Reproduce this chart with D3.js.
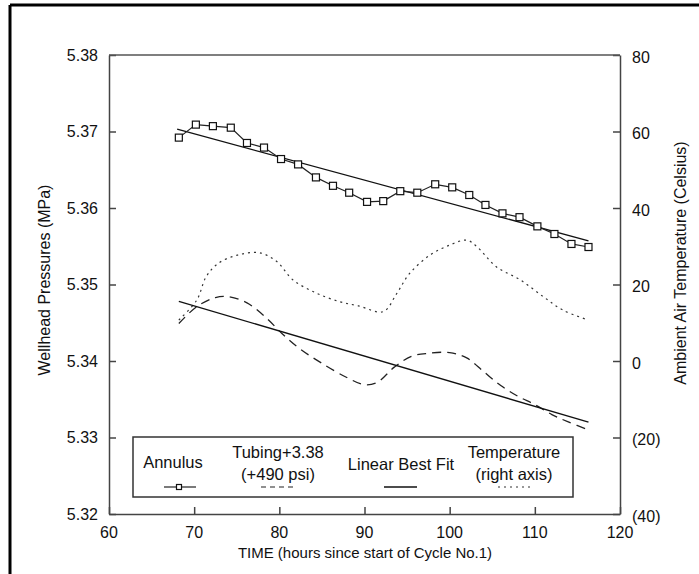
<!DOCTYPE html>
<html>
<head>
<meta charset="utf-8">
<script src="https://cdn.jsdelivr.net/npm/d3@7"></script>
<style>
  body { margin: 0; background: #fff; }
  text { font-family: "Liberation Sans", Arial, sans-serif; fill: #111; }
</style>
</head>
<body>
<script>
// values
var annulusTime = [68.2, 70.2, 72.2, 74.3, 76.2, 78.2, 80.2, 82.2, 84.3, 86.3, 88.2, 90.3, 92.2,
                   94.2, 96.2, 98.3, 100.3, 102.3, 104.2, 106.2, 108.2, 110.3, 112.3, 114.3, 116.3];
var annulusP = [5.3692, 5.3709, 5.3707, 5.3705, 5.3685, 5.3679, 5.3664, 5.3657, 5.3640, 5.3629, 5.3620, 5.3608, 5.3609,
                5.3622, 5.3620, 5.3631, 5.3627, 5.3617, 5.3604, 5.3593, 5.3588, 5.3576, 5.3566, 5.3553, 5.3549];

var tubingTime = [68.2, 70.3, 72.5, 74.0, 76.2, 78.5, 80.3, 82.4, 85.0, 88.0, 90.0, 91.5,
                  93.5, 95.5, 97.5, 100.0, 102.0, 104.0, 106.0, 108.0, 110.0, 112.0, 114.0, 116.3];
var tubingP = [5.3449, 5.3471, 5.3483, 5.3484, 5.3476, 5.3456, 5.3436, 5.3416, 5.3397, 5.3378, 5.3369, 5.3372,
               5.3392, 5.3406, 5.3410, 5.3411, 5.3404, 5.3386, 5.3368, 5.3354, 5.3343, 5.3330, 5.3320, 5.3310];

var tempTime = [68.2, 70.3, 71.4, 72.8, 75.1, 77.7, 79.7, 81.6, 84.4, 87.1, 89.3, 92.2,
                93.8, 95.3, 97.7, 100.0, 102.0, 103.2, 105.5, 108.3, 111.0, 113.3, 116.3];
var tempC = [10.7, 15.9, 22.0, 25.5, 27.7, 28.3, 26.0, 21.2, 17.7, 15.5, 14.4, 12.9,
             17.7, 22.9, 27.7, 30.3, 31.6, 29.9, 24.6, 21.2, 16.8, 13.3, 10.7];

// best fit end points
var annulusFitTime = [68.0, 116.3];
var annulusFitP = [5.3703, 5.3557];
var tubingFitTime = [68.2, 116.3];
var tubingFitP = [5.3478, 5.3320];

var xTicks = [60, 70, 80, 90, 100, 110, 120];
var leftTicks = [5.32, 5.33, 5.34, 5.35, 5.36, 5.37, 5.38];
var rightTicks = [-40, -20, 0, 20, 40, 60, 80];
var rightTickLabels = ["(40)", "(20)", "0", "20", "40", "60", "80"];

var W = 699, H = 574;
var plotL = 109, plotR = 620, plotT = 55, plotB = 514;

var svg = d3.select("body").append("svg")
    .attr("width", W)
    .attr("height", H);

// frame of the scanned figure
svg.append("line").attr("x1", 10).attr("y1", 5).attr("x2", W).attr("y2", 5)
    .attr("stroke", "#000").attr("stroke-width", 3);
svg.append("line").attr("x1", 10).attr("y1", 5).attr("x2", 10).attr("y2", H)
    .attr("stroke", "#000").attr("stroke-width", 3);

var x = d3.scaleLinear().domain([60, 120]).range([plotL, plotR]);
var y = d3.scaleLinear().domain([5.32, 5.38]).range([plotB, plotT]);
var yT = d3.scaleLinear().domain([-40, 80]).range([plotB, plotT]);

function greyAxis(g) {
  g.selectAll("line, path").attr("stroke", "#444").attr("stroke-width", 1.5);
}

// axes (ticks point inwards)
svg.append("g")
    .attr("transform", "translate(0," + plotB + ")")
    .call(d3.axisTop(x).tickValues(xTicks).tickSize(7).tickSizeOuter(0).tickFormat(""))
    .call(greyAxis);
svg.append("g")
    .attr("transform", "translate(" + plotL + ",0)")
    .call(d3.axisRight(y).tickValues(leftTicks).tickSize(7).tickSizeOuter(0).tickFormat(""))
    .call(greyAxis);
svg.append("g")
    .attr("transform", "translate(" + plotR + ",0)")
    .call(d3.axisLeft(yT).tickValues(rightTicks).tickSize(7).tickSizeOuter(0).tickFormat(""))
    .call(greyAxis);
svg.append("line")
    .attr("x1", plotL).attr("x2", plotR).attr("y1", plotT).attr("y2", plotT)
    .attr("stroke", "#555").attr("stroke-width", 1.5);

// tick labels
svg.selectAll(".xl").data(xTicks).enter().append("text")
    .attr("x", function(d) { return x(d); })
    .attr("y", 538)
    .attr("text-anchor", "middle")
    .style("font-size", "16px")
    .text(function(d) { return d; });
svg.selectAll(".yl").data(leftTicks).enter().append("text")
    .attr("x", 98)
    .attr("y", function(d) { return y(d); })
    .attr("dy", "0.35em")
    .attr("text-anchor", "end")
    .style("font-size", "16px")
    .text(function(d) { return d.toFixed(2); });
svg.selectAll(".yr").data(rightTicks).enter().append("text")
    .attr("x", 632)
    .attr("y", function(d) { return yT(d) + 2; })
    .attr("dy", "0.35em")
    .style("font-size", "16px")
    .text(function(d, i) { return rightTickLabels[i]; });

// axis titles
svg.append("text")
    .attr("x", 365).attr("y", 558)
    .attr("text-anchor", "middle")
    .style("font-size", "15px")
    .text("TIME (hours since start of Cycle No.1)");
svg.append("text")
    .attr("transform", "translate(50,280) rotate(-90)")
    .attr("text-anchor", "middle")
    .style("font-size", "16px")
    .text("Wellhead Pressures (MPa)");
svg.append("text")
    .attr("transform", "translate(686,263) rotate(-90)")
    .attr("text-anchor", "middle")
    .style("font-size", "16px")
    .text("Ambient Air Temperature (Celsius)");

// series
var annulus = annulusTime.map(function(t, i) { return {t: t, v: annulusP[i]}; });
var tubing = tubingTime.map(function(t, i) { return {t: t, v: tubingP[i]}; });
var temp = tempTime.map(function(t, i) { return {t: t, v: tempC[i]}; });
var fitA = annulusFitTime.map(function(t, i) { return {t: t, v: annulusFitP[i]}; });
var fitT = tubingFitTime.map(function(t, i) { return {t: t, v: tubingFitP[i]}; });

var lineP = d3.line().x(function(d) { return x(d.t); }).y(function(d) { return y(d.v); });
var smoothP = d3.line().curve(d3.curveCatmullRom).x(function(d) { return x(d.t); }).y(function(d) { return y(d.v); });
var smoothT = d3.line().curve(d3.curveCatmullRom).x(function(d) { return x(d.t); }).y(function(d) { return yT(d.v); });

svg.append("path").datum(temp)
    .attr("d", smoothT)
    .attr("fill", "none").attr("stroke", "#333").attr("stroke-width", 1.2)
    .attr("stroke-dasharray", "2,4");

svg.append("path").datum(tubing)
    .attr("d", smoothP)
    .attr("fill", "none").attr("stroke", "#222").attr("stroke-width", 1.3)
    .attr("stroke-dasharray", "9,6");

svg.append("path").datum(fitT)
    .attr("d", lineP)
    .attr("fill", "none").attr("stroke", "#111").attr("stroke-width", 1.3);
svg.append("path").datum(fitA)
    .attr("d", lineP)
    .attr("fill", "none").attr("stroke", "#111").attr("stroke-width", 1.3);

svg.append("path").datum(annulus)
    .attr("d", lineP)
    .attr("fill", "none").attr("stroke", "#222").attr("stroke-width", 1.2);
svg.selectAll(".sq").data(annulus).enter().append("rect")
    .attr("x", function(d) { return x(d.t) - 3.5; })
    .attr("y", function(d) { return y(d.v) - 3.5; })
    .attr("width", 7).attr("height", 7)
    .attr("fill", "#fff").attr("stroke", "#111").attr("stroke-width", 1.2);

// legend
var lg = svg.append("g");
lg.append("rect")
    .attr("x", 133).attr("y", 437).attr("width", 440).attr("height", 60)
    .attr("fill", "#fff").attr("stroke", "#333").attr("stroke-width", 1.5);

var legendText = [
  {x: 173, y: 468, s: "Annulus"},
  {x: 278, y: 458, s: "Tubing+3.38"},
  {x: 278, y: 480, s: "(+490 psi)"},
  {x: 401, y: 470, s: "Linear Best Fit"},
  {x: 514, y: 458, s: "Temperature"},
  {x: 514, y: 480, s: "(right axis)"}
];
lg.selectAll("text").data(legendText).enter().append("text")
    .attr("x", function(d) { return d.x; })
    .attr("y", function(d) { return d.y; })
    .attr("text-anchor", "middle")
    .style("font-size", "16.5px")
    .text(function(d) { return d.s; });

lg.append("line").attr("x1", 164).attr("x2", 196).attr("y1", 487).attr("y2", 487)
    .attr("stroke", "#222").attr("stroke-width", 1.2);
lg.append("rect").attr("x", 176.5).attr("y", 484.5).attr("width", 5).attr("height", 5)
    .attr("fill", "#fff").attr("stroke", "#111").attr("stroke-width", 1.2);
lg.append("line").attr("x1", 261).attr("x2", 295).attr("y1", 487).attr("y2", 487)
    .attr("stroke", "#222").attr("stroke-width", 1.2).attr("stroke-dasharray", "5,4");
lg.append("line").attr("x1", 384).attr("x2", 417).attr("y1", 487).attr("y2", 487)
    .attr("stroke", "#111").attr("stroke-width", 1.3);
lg.append("line").attr("x1", 498).attr("x2", 530).attr("y1", 487).attr("y2", 487)
    .attr("stroke", "#333").attr("stroke-width", 1.2).attr("stroke-dasharray", "2,4");
</script>
</body>
</html>
